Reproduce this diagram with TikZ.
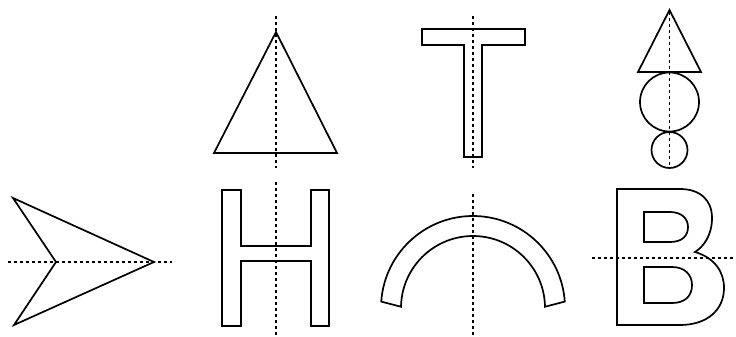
\documentclass[tikz,border=0pt]{standalone}
\usetikzlibrary{calc}

\tikzset{
  outline/.style={line width=1.7pt, line join=miter},
  symline/.style={line width=1.3pt, dash pattern=on 3pt off 3pt}
}

\begin{document}
\begin{tikzpicture}[x=1pt, y=-1pt]
  \useasboundingbox (0,0) rectangle (736,337);
  % Arrow head with a horizontal axis.
  \draw[outline] (13,198) -- (56,262) -- (14,325) -- (154,262) -- cycle;
  \draw[symline] (8,262) -- (172,262);
  % Triangle.
  \draw[outline] (276,32) -- (337,153) -- (214,153) -- cycle;
  \draw[symline] (276,16) -- (276,168);
  % Letter T.
  \draw[outline] (422,29) -- (525,29) -- (525,45) -- (482,45) -- (482,157)
    -- (464,157) -- (464,45) -- (422,45) -- cycle;
  \draw[symline] (473,16) -- (473,168);
  % Cone on two balls.
  \coordinate (bigball) at (669.5,102);
  \coordinate (smallball) at (669.5,150);
  \draw[outline] (669.5,10) -- (701,72) -- (638,72) -- cycle;
  \draw[outline] (bigball) circle[radius=29.5];
  \draw[outline] (smallball) circle[radius=18];
  \draw[symline] (669.5,12) -- (669.5,167);
  % Letter H.
  \draw[outline] (222,190) -- (241,190) -- (241,246) -- (311,246) -- (311,190)
    -- (329,190) -- (329,326) -- (311,326) -- (311,261) -- (241,261)
    -- (241,326) -- (222,326) -- cycle;
  \draw[symline] (276,182) -- (276,336);
  % Arch.
  \coordinate (archc) at (473,308);
  \draw[outline] ([shift={(184:92)}]archc) arc[start angle=184, end angle=356, radius=92]
    -- ([shift={(359:72)}]archc) arc[start angle=359, end angle=181, radius=72] -- cycle;
  \draw[symline] (473,194) -- (473,337);
  % Letter B.
  \draw[outline] (617,189) -- (680,189) .. controls (700,189) and (712,200) .. (712,218)
    .. controls (712,236) and (703,247) .. (695,252)
    .. controls (715,258) and (724,272) .. (724,288)
    .. controls (724,310) and (707,325) .. (680,325) -- (617,325) -- cycle;
  \draw[outline] (644,212) -- (670,212) .. controls (682,212) and (688,219) .. (688,227)
    .. controls (688,236) and (682,242) .. (670,242) -- (644,242) -- cycle;
  \draw[outline] (644,267) -- (672,267) .. controls (685,267) and (692,275) .. (692,285)
    .. controls (692,296) and (685,303) .. (672,303) -- (644,303) -- cycle;
  \draw[symline] (592,258) -- (736,258);
\end{tikzpicture}
\end{document}
